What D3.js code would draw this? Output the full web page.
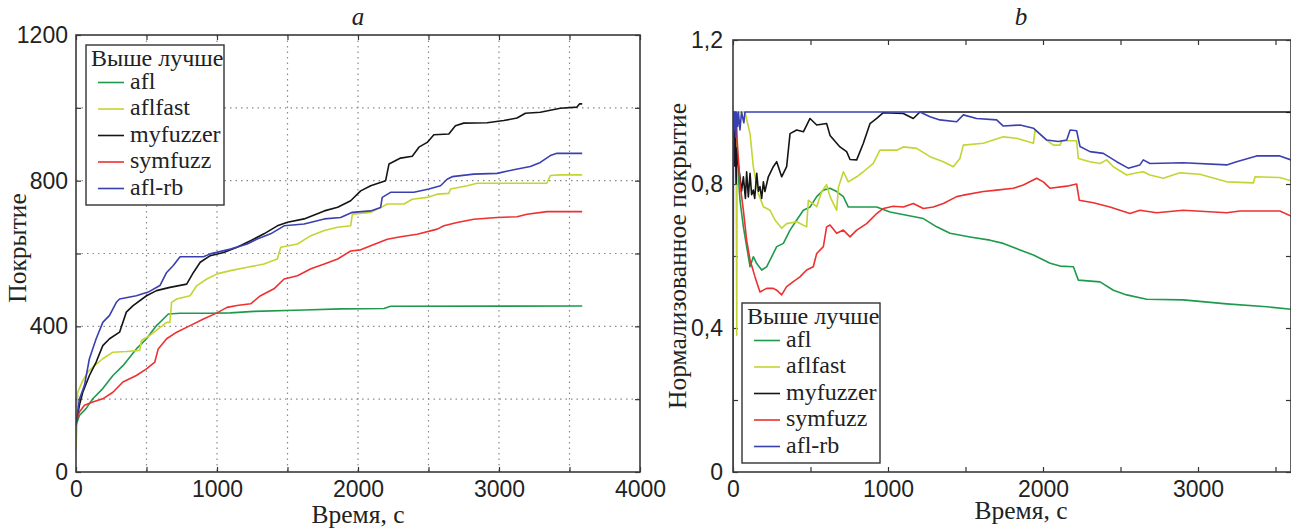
<!DOCTYPE html>
<html>
<head>
<meta charset="utf-8">
<script src="https://cdn.jsdelivr.net/npm/d3@7"></script>
<style>
  body { margin: 0; background: #fff; }
  svg { display: block; font-family: "Liberation Serif", "DejaVu Serif", serif; }
  .tick text { font-size: 23px; fill: #222; }
  .domain { display: none; }
</style>
</head>
<body>
<svg id="chart" width="1291" height="530"></svg>
<script>
// series names and legend
const seriesNames = ["afl", "aflfast", "myfuzzer", "symfuzz", "afl-rb"]
const seriesColors = ["#1f9a4c", "#c4d532", "#151515", "#ee3030", "#3a40b0"]
const legendTitle = "Выше лучше"

// panel a: coverage, [time, value]
const aflA = [[0,128],[24,155],[71,174],[119,201],[190,229],[262,265],[333,292],[428,338],[500,366],[571,402],[619,420],[655,434],[738,436],[952,436],[1095,437],[1261,441],[1618,445],[1877,448],[2184,449],[2231,455],[3590,456]]
const aflfastA = [[0,60],[8,150],[12,219],[48,251],[83,274],[131,292],[190,311],[262,329],[357,331],[452,334],[464,361],[524,375],[583,393],[643,411],[666,411],[678,466],[714,475],[809,484],[857,512],[928,530],[1000,544],[1095,553],[1214,562],[1333,571],[1428,585],[1452,617],[1571,626],[1666,649],[1761,663],[1856,672],[1948,676],[1960,708],[2090,713],[2160,726],[2208,736],[2326,736],[2385,749],[2491,754],[2562,763],[2644,765],[2656,777],[2774,786],[2845,793],[3340,793],[3364,814],[3435,816],[3590,816]]
const myfuzzerA = [[0,128],[24,183],[48,219],[95,265],[143,302],[190,347],[238,366],[309,384],[357,439],[405,457],[500,484],[571,498],[666,507],[785,516],[833,548],[881,576],[952,594],[1047,603],[1142,617],[1238,635],[1333,654],[1428,676],[1500,686],[1618,695],[1761,717],[1856,727],[1948,745],[2019,772],[2090,786],[2196,800],[2220,846],[2302,862],[2385,867],[2432,892],[2491,905],[2538,926],[2644,928],[2691,951],[2750,958],[2916,959],[3034,965],[3128,972],[3187,985],[3293,988],[3435,999],[3553,1002],[3572,1011],[3590,1011]]
const symfuzzA = [[0,137],[24,165],[60,183],[119,192],[190,201],[262,219],[333,247],[428,265],[500,283],[559,302],[583,338],[643,366],[714,384],[809,402],[904,420],[1000,437],[1071,452],[1142,457],[1238,462],[1309,484],[1404,503],[1476,530],[1571,539],[1666,558],[1761,571],[1856,585],[1948,607],[2019,610],[2113,625],[2208,639],[2302,646],[2420,653],[2562,667],[2609,676],[2703,685],[2821,694],[2986,699],[3128,701],[3199,708],[3340,715],[3590,715]]
const aflrbA = [[0,128],[24,200],[60,238],[95,311],[143,366],[190,411],[238,430],[286,466],[309,475],[428,484],[512,494],[595,512],[643,548],[690,567],[738,591],[904,591],[952,599],[1095,612],[1214,626],[1285,640],[1380,654],[1476,676],[1618,681],[1761,695],[1877,699],[1960,713],[2090,717],[2160,726],[2172,754],[2231,768],[2396,768],[2503,777],[2585,786],[2632,804],[2668,811],[2821,818],[2986,820],[3104,830],[3222,839],[3293,850],[3364,869],[3411,875],[3590,875]]

// panel b: normalized coverage, [time, value]
const aflB = [[0,1.0],[15,1.0],[24,0.894],[45,0.755],[67,0.681],[88,0.626],[110,0.57],[131,0.598],[153,0.579],[185,0.561],[217,0.57],[250,0.598],[282,0.626],[325,0.635],[368,0.672],[411,0.7],[454,0.727],[497,0.736],[540,0.765],[583,0.783],[626,0.788],[669,0.779],[712,0.765],[744,0.736],[927,0.736],[1013,0.722],[1120,0.713],[1228,0.704],[1314,0.681],[1400,0.663],[1529,0.653],[1658,0.644],[1744,0.635],[1852,0.617],[1938,0.603],[2046,0.58],[2110,0.572],[2196,0.57],[2228,0.533],[2368,0.528],[2454,0.505],[2540,0.492],[2669,0.48],[2905,0.478],[3185,0.467],[3443,0.459],[3600,0.452]]
const aflfastB = [[0,1.0],[20,1.0],[24,0.38],[27,1.0],[77,1.0],[110,0.94],[131,0.848],[163,0.774],[196,0.737],[239,0.727],[271,0.7],[314,0.677],[346,0.69],[411,0.695],[475,0.681],[486,0.755],[540,0.737],[572,0.779],[604,0.798],[626,0.765],[669,0.727],[680,0.79],[712,0.834],[744,0.806],[798,0.82],[841,0.834],[905,0.857],[948,0.894],[1056,0.894],[1099,0.903],[1185,0.899],[1271,0.876],[1357,0.862],[1421,0.848],[1464,0.871],[1486,0.908],[1615,0.913],[1744,0.931],[1830,0.927],[1938,0.913],[1949,0.95],[2024,0.922],[2067,0.908],[2110,0.908],[2121,0.92],[2217,0.92],[2228,0.871],[2303,0.862],[2368,0.857],[2411,0.867],[2454,0.848],[2540,0.825],[2583,0.829],[2647,0.834],[2690,0.825],[2776,0.816],[2883,0.831],[3012,0.827],[3185,0.806],[3357,0.803],[3368,0.82],[3528,0.818],[3600,0.809]]
const myfuzzerB = [[0,1.0],[10,0.85],[15,0.98],[20,0.8],[25,0.9],[30,0.867],[45,0.82],[55,0.78],[67,0.82],[80,0.76],[88,0.834],[99,0.764],[110,0.83],[120,0.77],[131,0.783],[140,0.76],[153,0.83],[164,0.78],[174,0.793],[185,0.76],[196,0.806],[206,0.779],[228,0.82],[260,0.848],[282,0.862],[314,0.82],[346,0.848],[368,0.94],[411,0.95],[454,0.945],[497,0.982],[540,0.964],[604,0.968],[626,0.935],[690,0.903],[733,0.89],[755,0.868],[798,0.867],[841,0.913],[884,0.968],[927,0.982],[970,0.998],[1099,0.996],[1163,0.982],[1206,1.0],[3600,1.0]]
const symfuzzB = [[0,1.0],[15,1.0],[24,0.94],[45,0.802],[67,0.727],[88,0.644],[110,0.589],[142,0.542],[174,0.5],[217,0.51],[260,0.51],[282,0.505],[314,0.492],[346,0.515],[389,0.529],[432,0.542],[475,0.561],[518,0.57],[540,0.607],[583,0.626],[604,0.681],[626,0.686],[669,0.663],[712,0.672],[755,0.653],[798,0.672],[862,0.69],[927,0.718],[970,0.732],[1034,0.738],[1099,0.736],[1163,0.746],[1228,0.732],[1292,0.736],[1357,0.746],[1443,0.765],[1486,0.769],[1615,0.779],[1701,0.783],[1808,0.788],[1873,0.797],[1959,0.816],[2002,0.806],[2046,0.788],[2153,0.794],[2217,0.8],[2234,0.755],[2325,0.748],[2432,0.736],[2561,0.718],[2625,0.727],[2733,0.72],[2905,0.727],[3185,0.72],[3271,0.725],[3528,0.725],[3600,0.711]]
const aflrbB = [[0,0],[3,1.0],[8,0.95],[12,1.0],[18,0.93],[22,1.0],[30,0.96],[35,1.0],[45,0.95],[55,1.0],[70,0.97],[77,1.0],[1206,1.0],[1271,0.987],[1335,0.978],[1443,0.973],[1486,0.992],[1572,0.982],[1701,0.978],[1744,0.961],[1852,0.964],[1938,0.955],[2024,0.922],[2099,0.918],[2153,0.922],[2175,0.95],[2217,0.948],[2239,0.904],[2303,0.89],[2389,0.885],[2475,0.862],[2550,0.844],[2625,0.853],[2647,0.867],[2690,0.857],[2905,0.859],[3185,0.853],[3249,0.862],[3378,0.878],[3528,0.878],[3600,0.867]]

// ticks
const xTicksA = [0, 500, 1000, 1500, 2000, 2500, 3000, 3500, 4000]
const xLabelsA = [0, 1000, 2000, 3000, 4000]
const yTicksA = [0, 200, 400, 600, 800, 1000, 1200]
const yLabelsA = [0, 400, 800, 1200]
const xTicksB = [0, 500, 1000, 1500, 2000, 2500, 3000, 3500]
const xLabelsB = [0, 1000, 2000, 3000]
const yTicksB = [0, 0.2, 0.4, 0.6, 0.8, 1.0, 1.2]
const yLabelsB = [0, 0.4, 0.8, 1.2]

const svg = d3.select("#chart")
const commaFmt = d => d === 0 ? "0" : String(d).replace(".", ",")

function drawPanel(p) {
	const x = d3.scaleLinear().domain(p.xDomain).range([p.left, p.right])
	const y = d3.scaleLinear().domain(p.yDomain).range([p.bottom, p.top])
	const g = svg.append("g")

	const clipId = "clip-" + p.id
	svg.append("clipPath").attr("id", clipId)
		.append("rect")
		.attr("x", p.left).attr("y", p.top)
		.attr("width", p.right - p.left).attr("height", p.bottom - p.top)

	// dotted grid
	if (p.grid) {
		g.selectAll(".gx").data(p.xTicks.filter(d => d > p.xDomain[0] && d < p.xDomain[1]))
			.enter().append("line")
			.attr("x1", d => x(d)).attr("x2", d => x(d))
			.attr("y1", p.top).attr("y2", p.bottom)
			.attr("stroke", "#8a8a8a").attr("stroke-width", 1.2)
			.attr("stroke-dasharray", "1.5,4")
		g.selectAll(".gy").data(p.yTicks.filter(d => d > p.yDomain[0] && d < p.yDomain[1]))
			.enter().append("line")
			.attr("y1", d => y(d)).attr("y2", d => y(d))
			.attr("x1", p.left).attr("x2", p.right)
			.attr("stroke", "#8a8a8a").attr("stroke-width", 1.2)
			.attr("stroke-dasharray", "1.5,4")
	}

	// axes with inward ticks
	const labelX = d => p.xLabels.includes(d) ? p.fmt(d) : ""
	const labelY = d => p.yLabels.some(v => Math.abs(v - d) < 1e-9) ? p.fmt(d) : ""

	g.append("g").attr("transform", `translate(0,${p.bottom})`)
		.call(d3.axisBottom(x).tickValues(p.xTicks).tickSize(-5).tickPadding(9).tickFormat(labelX))
	g.append("g").attr("transform", `translate(0,${p.top})`)
		.call(d3.axisTop(x).tickValues(p.xTicks).tickSize(-5).tickFormat(""))
	g.append("g").attr("transform", `translate(${p.left},0)`)
		.call(d3.axisLeft(y).tickValues(p.yTicks).tickSize(-5).tickPadding(p.yPad).tickFormat(labelY))
	g.append("g").attr("transform", `translate(${p.right},0)`)
		.call(d3.axisRight(y).tickValues(p.yTicks).tickSize(-5).tickFormat(""))
	g.selectAll(".tick line").attr("stroke", "#333").attr("stroke-width", 1.2)

	// lines
	const line = d3.line().x(d => x(d[0])).y(d => y(d[1]))
	g.append("g").attr("clip-path", `url(#${clipId})`)
		.selectAll("path").data(p.series).enter().append("path")
		.attr("d", line)
		.attr("fill", "none")
		.attr("stroke", (d, i) => seriesColors[i])
		.attr("stroke-width", 1.6)
		.attr("stroke-linejoin", "round")

	// frame
	g.append("rect")
		.attr("x", p.left).attr("y", p.top)
		.attr("width", p.right - p.left).attr("height", p.bottom - p.top)
		.attr("fill", "none").attr("stroke", "#3a3a3a").attr("stroke-width", 1.6)

	// titles
	g.append("text").attr("x", p.titleX).attr("y", 25)
		.attr("text-anchor", "middle").attr("font-size", 25).attr("font-style", "italic")
		.attr("fill", "#222").text(p.title)
	g.append("text").attr("x", p.titleX).attr("y", p.xLabelY)
		.attr("text-anchor", "middle").attr("font-size", 25.5).attr("fill", "#222")
		.text("Время, с")
	g.append("text")
		.attr("transform", `translate(${p.yLabelX},${p.yLabelCY}) rotate(-90)`)
		.attr("text-anchor", "middle").attr("font-size", 25.5).attr("fill", "#222")
		.text(p.yLabel)

	// legend
	const lg = g.append("g").attr("transform", `translate(${p.legend[0]},${p.legend[1]})`)
	lg.append("rect").attr("width", 138).attr("height", 160)
		.attr("fill", "#fff").attr("stroke", "#333").attr("stroke-width", 1.4)
	lg.append("text").attr("x", 5).attr("y", 21).attr("font-size", 24).attr("fill", "#222")
		.text(legendTitle)
	seriesNames.forEach((name, i) => {
		const yy = 43.5 + i * 26.5
		lg.append("line").attr("x1", 12).attr("x2", 38)
			.attr("y1", yy - 6).attr("y2", yy - 6)
			.attr("stroke", seriesColors[i]).attr("stroke-width", 1.6)
		lg.append("text").attr("x", 44).attr("y", yy).attr("font-size", 24).attr("fill", "#222")
			.text(name)
	})
}

drawPanel({
	id: "a", left: 76, right: 640, top: 35, bottom: 472,
	xDomain: [0, 4000], yDomain: [0, 1200],
	xTicks: xTicksA, xLabels: xLabelsA, yTicks: yTicksA, yLabels: yLabelsA,
	fmt: d => String(d), yPad: 8, grid: true,
	series: [aflA, aflfastA, myfuzzerA, symfuzzA, aflrbA],
	title: "a", titleX: 358, xLabelY: 523,
	yLabel: "Покрытие", yLabelX: 26, yLabelCY: 248,
	legend: [86, 45]
})

drawPanel({
	id: "b", left: 733, right: 1291, top: 40, bottom: 472,
	xDomain: [0, 3600], yDomain: [0, 1.2],
	xTicks: xTicksB, xLabels: xLabelsB, yTicks: yTicksB, yLabels: yLabelsB,
	fmt: commaFmt, yPad: 10, grid: false,
	series: [aflB, aflfastB, myfuzzerB, symfuzzB, aflrbB],
	title: "b", titleX: 1021, xLabelY: 519,
	yLabel: "Нормализованное покрытие", yLabelX: 686, yLabelCY: 256,
	legend: [742, 303]
})
</script>
</body>
</html>
